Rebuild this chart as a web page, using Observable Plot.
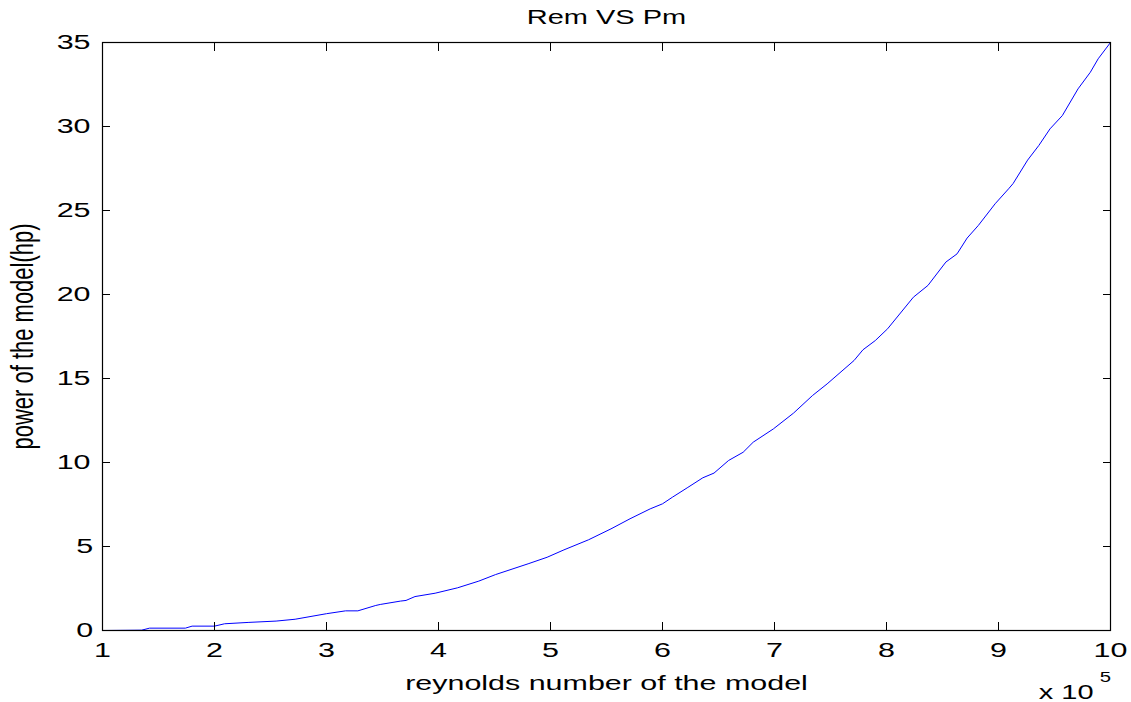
<!DOCTYPE html>
<html><head><meta charset="utf-8">
<script src="https://cdn.jsdelivr.net/npm/d3@7"></script>
<script src="https://cdn.jsdelivr.net/npm/@observablehq/plot@0.6"></script>
<style>html,body{margin:0;padding:0;background:#fff;} svg{display:block;}</style>
</head><body><div id="chart"></div>
<script>
// Reynolds number of the model, in units of 10^5
const reynolds = [1.0, 1.35, 1.42, 1.74, 1.8, 2.0, 2.09, 2.3, 2.55, 2.72, 3.0, 3.17, 3.28, 3.44, 3.48, 3.66, 3.71, 3.79, 3.97, 4.17, 4.36, 4.51, 4.80, 4.97, 5.12, 5.34, 5.54, 5.71, 5.89, 6.0, 6.09, 6.22, 6.36, 6.46, 6.59, 6.72, 6.81, 6.99, 7.17, 7.34, 7.47, 7.71, 7.79, 7.90, 8.01, 8.24, 8.37, 8.53, 8.63, 8.72, 8.82, 8.97, 9.09, 9.13, 9.26, 9.36, 9.46, 9.57, 9.71, 9.82, 9.89, 10.0];
// Power of the model (hp)
const power = [0, 0.02, 0.14, 0.14, 0.26, 0.26, 0.4, 0.48, 0.56, 0.67, 1.0, 1.17, 1.17, 1.49, 1.55, 1.75, 1.79, 2.02, 2.22, 2.54, 2.94, 3.33, 3.97, 4.36, 4.80, 5.40, 6.05, 6.65, 7.24, 7.54, 7.94, 8.49, 9.09, 9.37, 10.12, 10.61, 11.21, 12.0, 12.94, 13.99, 14.68, 16.07, 16.71, 17.26, 17.96, 19.84, 20.54, 21.93, 22.42, 23.36, 24.11, 25.4, 26.29, 26.6, 28.0, 28.87, 29.86, 30.65, 32.24, 33.23, 34.03, 35.0];
const xTicks = [1, 2, 3, 4, 5, 6, 7, 8, 9, 10];
const yTicks = [0, 5, 10, 15, 20, 25, 30, 35];
const titleText = ["Rem VS Pm"];
const xLabel = ["reynolds number of the model"];
const yLabel = ["power of the model(hp)"];
const xExponentBase = ["x 10"];
const xExponent = ["5"];

const data = reynolds.map((r, i) => ({re: r, p: power[i]}));

const chart = Plot.plot({
  width: 1131, height: 702,
  marginLeft: 102, marginRight: 21, marginTop: 42, marginBottom: 72,
  style: {fontFamily: "'Liberation Sans', Arial, sans-serif", fontSize: "21px", background: "#fff", color: "#000"},
  x: {domain: [1, 10]},
  y: {domain: [0, 35]},
  marks: [
    Plot.line(data, {x: "re", y: "p", stroke: "#0000ff", strokeWidth: 1}),
    Plot.frame({stroke: "#000", strokeWidth: 1.2}),
    Plot.axisX(xTicks, {anchor: "bottom", tickSize: -8, tickPadding: 20, label: null, tickFormat: d => String(d)}),
    Plot.axisX(xTicks, {anchor: "top", tickSize: -8, fill: "none", label: null}),
    Plot.axisY(yTicks, {anchor: "left", tickSize: -8, tickPadding: 20, label: null, tickFormat: d => String(d)}),
    Plot.axisY(yTicks, {anchor: "right", tickSize: -8, fill: "none", label: null}),
    Plot.text(titleText, {frameAnchor: "top", dy: -19, lineAnchor: "bottom", fontSize: 20}),
    Plot.text(xLabel, {frameAnchor: "bottom", dy: 59, lineAnchor: "bottom", fontSize: 21}),
    Plot.text(yLabel, {frameAnchor: "left", dx: -73, rotate: -90, textAnchor: "middle", lineAnchor: "bottom", fontSize: 22}),
    Plot.text(xExponentBase, {frameAnchor: "bottom-right", dx: -17, dy: 68, textAnchor: "end", lineAnchor: "bottom", fontSize: 20}),
    Plot.text(xExponent, {frameAnchor: "bottom-right", dx: -9, dy: 51, textAnchor: "start", lineAnchor: "bottom", fontSize: 14})
  ]
});
document.getElementById("chart").appendChild(chart);

// The reference figure is horizontally stretched: widen every text in screen space
const S = 1.45;
chart.querySelectorAll("text").forEach(t => {
  const r = t.getBoundingClientRect();
  if (!r.width) return;
  const a = getComputedStyle(t).textAnchor;
  const isRot = r.height > r.width;
  let sx = (r.left + r.right) / 2;
  if (!isRot && a === "end") sx = r.right;
  if (!isRot && a === "start") sx = r.left;
  const m = t.parentNode.getScreenCTM().inverse();
  const p = new DOMPoint(sx, (r.top + r.bottom) / 2).matrixTransform(m);
  const g = document.createElementNS("http://www.w3.org/2000/svg", "g");
  g.setAttribute("transform", `translate(${p.x},0) scale(${S},1) translate(${-p.x},0)`);
  t.parentNode.insertBefore(g, t);
  g.appendChild(t);
});
</script>
</body></html>
